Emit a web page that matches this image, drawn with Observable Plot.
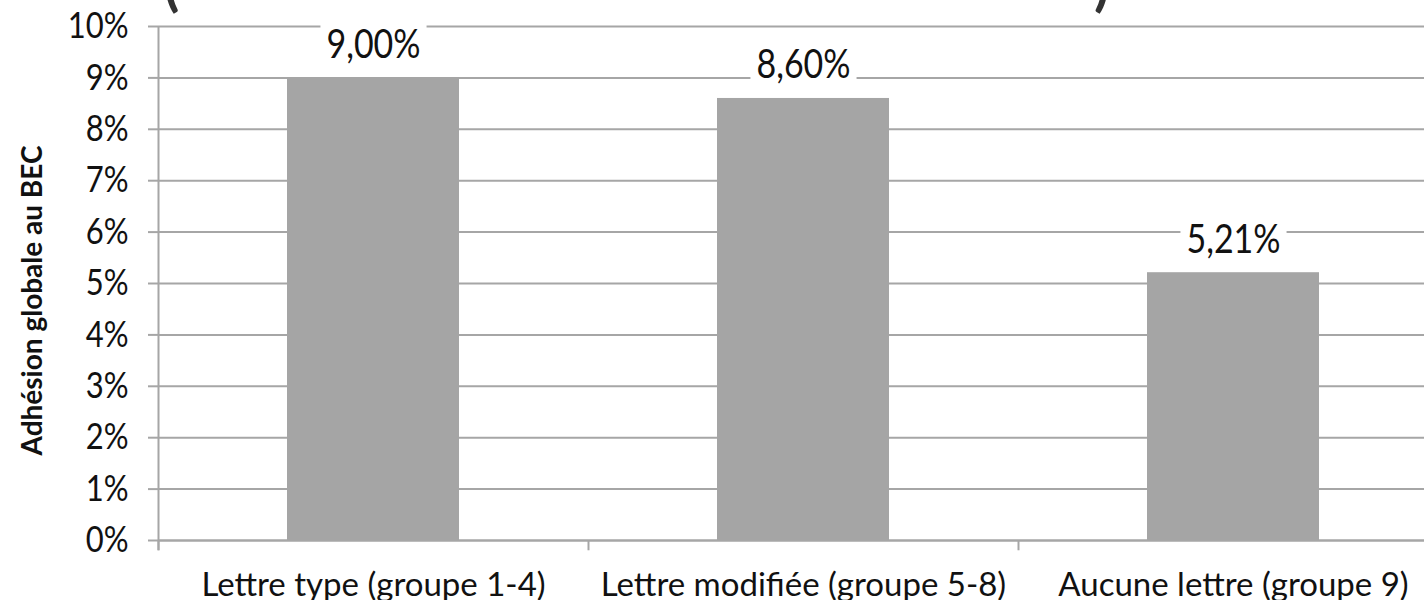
<!DOCTYPE html>
<html>
<head>
<meta charset="utf-8">
<script src="https://cdn.jsdelivr.net/npm/d3@7"></script>
<script src="https://cdn.jsdelivr.net/npm/@observablehq/plot@0.6"></script>
<style>
  html, body { margin: 0; padding: 0; background: #fff; overflow: hidden; }
  #wrap { position: relative; width: 1424px; height: 600px; overflow: hidden; }
  #chart svg { max-width: none !important; width: 1448px; height: 600px; display: block; }
  #title { position: absolute; top: -50px; left: 0; width: 1424px; height: 60px;
           font-family: "Lato", sans-serif; font-weight: 700; font-size: 56px; color: #333; }
  #title span { position: absolute; top: 0; }
</style>
</head>
<body>
<div id="wrap">
  <div id="chart"></div>
  <div id="title"><span style="left:164px">(</span><span style="left:1094px">)</span></div>
</div>
<script>
const categories = ["Lettre type (groupe 1-4)", "Lettre modifiée (groupe 5-8)", "Aucune lettre (groupe 9)"];
const values = [9.00, 8.60, 5.21];
const valueLabels = ["9,00%", "8,60%", "5,21%"];
const yTicks = [0, 1, 2, 3, 4, 5, 6, 7, 8, 9, 10];
const yTitle = "Adhésion globale au BEC";

const data = categories.map((c, i) => ({cat: c, value: values[i], label: valueLabels[i]}));

const gray = "#a6a6a6";
const chart = Plot.plot({
  width: 1448,
  height: 600,
  marginLeft: 158,
  marginRight: 0,
  marginTop: 26,
  marginBottom: 60,
  style: {fontFamily: "Lato, sans-serif", background: "#fff", color: "#111", maxWidth: "none"},
  x: {domain: categories, paddingInner: 0.6, paddingOuter: 0.3},
  y: {domain: [0, 10]},
  marks: [
    Plot.gridY(yTicks, {stroke: gray, strokeWidth: 2, strokeOpacity: 1}),
    Plot.barY(data, {x: "cat", y: "value", fill: "#a5a5a5"}),
    Plot.ruleY([0], {stroke: gray, strokeWidth: 2}),
    Plot.ruleX(categories.slice(0, 1), {x: d => d, dx: -215, y1: -0.2, y2: 10, stroke: gray, strokeWidth: 2}),
    Plot.ruleX(categories, {x: d => d, dx: -215, y1: -0.2, y2: 0, stroke: gray, strokeWidth: 2}),
    Plot.axisY({ticks: yTicks, tickFormat: d => d + "%", tickSize: 10, tickPadding: 20,
                fontSize: 31, label: null, stroke: gray, strokeWidth: 2, strokeOpacity: 1, className: "ytick"}),
    Plot.axisX({tickSize: 0, tickPadding: 32, fontSize: 33, label: null, className: "xtick"}),
    Plot.text([yTitle], {frameAnchor: "left", textAnchor: "middle", rotate: -90, dx: -125, dy: 17,
                         fontSize: 28, fontWeight: "bold", text: d => d}),
    Plot.text(data, {x: "cat", y: "value", text: "label", dy: -20, lineAnchor: "bottom",
                     fontSize: 34, className: "vlabel"})
  ]
});
document.getElementById("chart").appendChild(chart);

// slightly taller glyphs, as in the reference face
document.querySelectorAll("g.ytick text, g.vlabel text").forEach(t => {
  const tr = t.getAttribute("transform") || "";
  t.setAttribute("transform", tr + " scale(1,1.18)");
});

// white boxes behind the value labels
document.querySelectorAll("g.vlabel text").forEach(t => {
  const b = t.getBBox();
  const r = document.createElementNS("http://www.w3.org/2000/svg", "rect");
  const px = 6, py = 5;
  r.setAttribute("x", b.x - px);
  r.setAttribute("y", b.y - py + 4);
  r.setAttribute("width", b.width + 2 * px);
  r.setAttribute("height", b.height + 2 * py - 4);
  r.setAttribute("fill", "#fff");
  r.setAttribute("stroke", "none");
  if (t.getAttribute("transform")) r.setAttribute("transform", t.getAttribute("transform"));
  t.parentNode.insertBefore(r, t);
});
</script>
</body>
</html>
